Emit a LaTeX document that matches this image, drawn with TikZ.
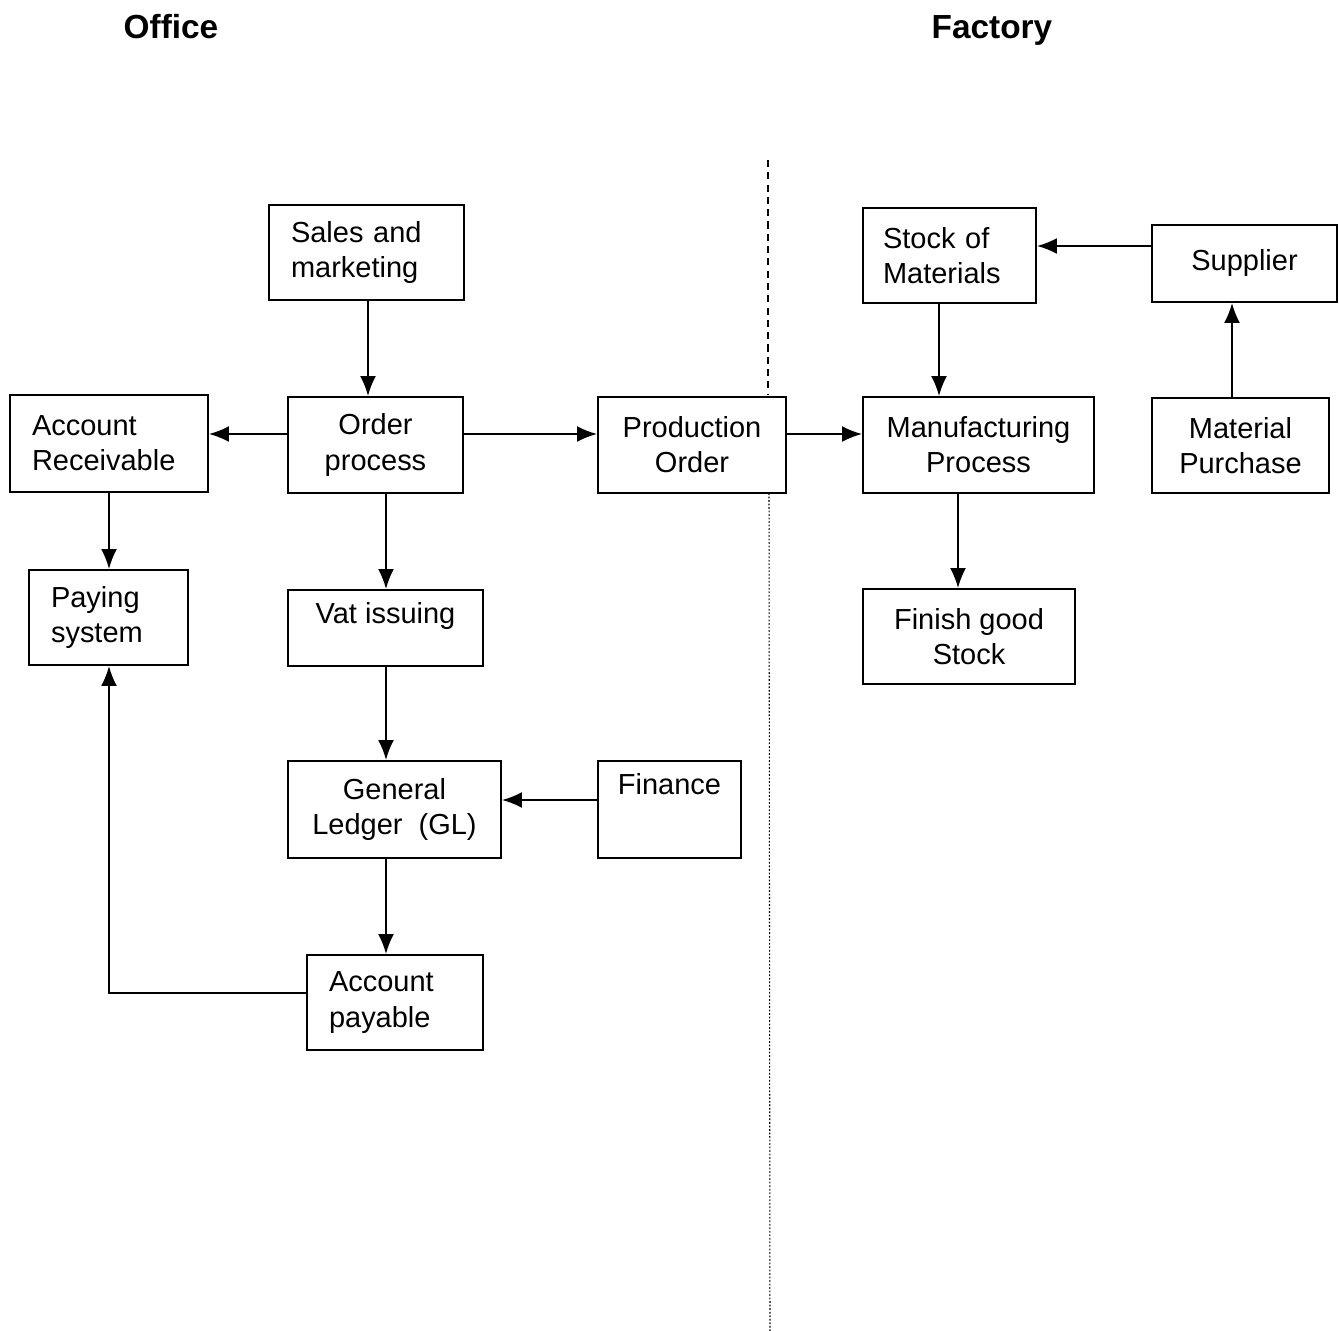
\documentclass[tikz,border=0pt]{standalone}
\usepackage{fontspec}
\setmainfont{Liberation Sans}
\usetikzlibrary{arrows.meta}

\tikzset{
  box/.style={draw, line width=1.1pt, inner sep=0pt, align=center,
    font=\fontsize{16.5}{20}\selectfont},
  lbox/.style={box, align=left, inner xsep=0.44cm},
  arr/.style={line width=1.1pt, -{Latex[length=0.4cm,width=0.32cm]}},
  title/.style={font=\fontsize{19}{22}\selectfont\bfseries}
}

\begin{document}
\begin{tikzpicture}[x=0.02cm,y=-0.02cm]
\useasboundingbox (0,0) rectangle (1339,1331);

% headings
\node[title] (office) at (171,27) {Office};
\node[title] (factory) at (992,30) {Factory};

% office side
\node[lbox, text width=3.02cm, minimum height=1.9cm] (sales) at (366.5,252.5) {Sales and\\marketing};
\node[lbox, text width=3.08cm, minimum height=1.94cm] (ar) at (109,443.5) {Account\\Receivable};
\node[box, minimum width=3.5cm, minimum height=1.92cm] (order) at (375.5,445) {Order\\process};
\node[box, minimum width=3.76cm, minimum height=1.92cm] (prod) at (692,445) {Production\\Order};
\node[lbox, text width=2.3cm, minimum height=1.9cm] (pay) at (108.5,617.5) {Paying\\system};
\node[box, minimum width=3.9cm, text height=0.66cm, text depth=0.86cm] (vat) at (385.5,628) {Vat issuing};
\node[box, minimum width=4.26cm, minimum height=1.94cm] (gl) at (394.5,809.5) {General\\Ledger~~(GL)};
\node[box, minimum width=2.86cm, text height=0.66cm, text depth=1.28cm] (fin) at (669.5,809.5) {Finance};
\node[lbox, text width=2.64cm, minimum height=1.9cm] (ap) at (395,1002.5) {Account\\payable};

% factory side
\node[lbox, inner xsep=0.4cm, text width=2.66cm, minimum height=1.9cm] (stock) at (949.5,255.5) {Stock of\\Materials};
\node[box, minimum width=3.7cm, minimum height=1.54cm] (sup) at (1244.5,263.5) {Supplier};
\node[box, minimum width=4.62cm, minimum height=1.92cm] (mfg) at (978.5,445) {Manufacturing\\Process};
\node[box, minimum width=3.54cm, minimum height=1.9cm] (mat) at (1240.5,445.5) {Material\\Purchase};
\node[box, minimum width=4.24cm, minimum height=1.9cm] (fgs) at (969,636.5) {Finish good\\Stock};

% divider
\coordinate (divtop) at (768,160);
\coordinate (divmid) at (768,395);
\coordinate (divlow) at (769,493);
\coordinate (divbot) at (770,1331);
\draw[line width=1.2pt, dash pattern=on 4pt off 3pt] (divtop) -- (divmid);
\draw[line width=0.6pt, dash pattern=on 1pt off 1pt] (divlow) -- (divbot);

% office flow
\draw[arr] ([xshift=0.03cm]sales.south) -- ([xshift=0.03cm]sales.south |- order.north);
\draw[arr] ([yshift=0.22cm]order.west) -- ([yshift=0.22cm]order.west -| ar.east);
\draw[arr] ([yshift=0.22cm]order.east) -- ([yshift=0.22cm]order.east -| prod.west);
\draw[arr] ([xshift=0.01cm]vat.north |- order.south) -- ([xshift=0.01cm]vat.north);
\draw[arr] (ar.south) -- (ar.south |- pay.north);
\draw[arr] ([xshift=0.01cm]vat.south) -- ([xshift=0.01cm]vat.south |- gl.north);
\draw[arr] ([yshift=0.19cm]fin.west) -- ([yshift=0.19cm]fin.west -| gl.east);
\draw[arr] ([xshift=-0.17cm]gl.south) -- ([xshift=-0.17cm]gl.south |- ap.north);
\draw[arr] ([yshift=0.19cm]ap.west) -| ([xshift=0.01cm]pay.south);

% factory flow
\draw[arr] ([yshift=0.22cm]prod.east) -- ([yshift=0.22cm]prod.east -| mfg.west);
\draw[arr] ([xshift=-0.21cm]stock.south) -- ([xshift=-0.21cm]stock.south |- mfg.north);
\draw[arr] ([yshift=0.35cm]sup.west) -- ([yshift=0.35cm]sup.west -| stock.east);
\draw[arr] ([xshift=-0.17cm]mat.north) -- ([xshift=-0.17cm]mat.north |- sup.south);
\draw[arr] ([xshift=-0.41cm]mfg.south) -- ([xshift=-0.41cm]mfg.south |- fgs.north);
\end{tikzpicture}
\end{document}
